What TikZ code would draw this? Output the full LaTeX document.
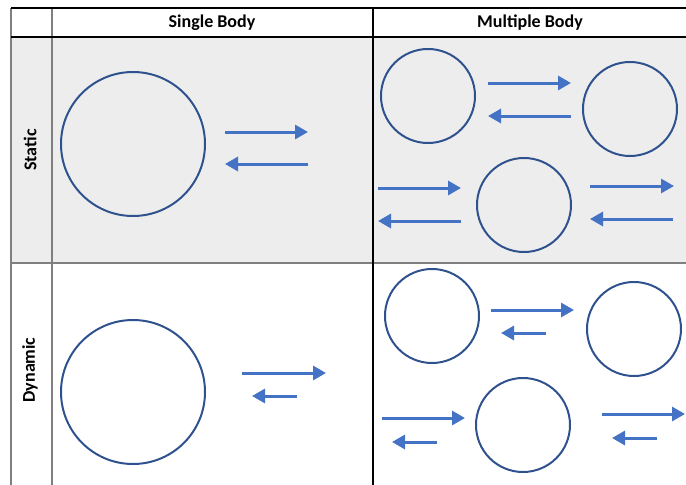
\documentclass[tikz,border=0pt]{standalone}
\usepackage{fontspec}
\setmainfont{Carlito}
\usetikzlibrary{arrows.meta}
\definecolor{cellgray}{HTML}{EDEDED}
\definecolor{ringblue}{HTML}{2F528F}
\definecolor{arrowblue}{HTML}{4472C4}
\definecolor{rulegray}{HTML}{7F7F7F}
\tikzset{
  body/.style={circle, draw=ringblue, line width=2pt, inner sep=0pt, minimum size=#1},
  force/.style={draw=arrowblue, line width=3pt, -{Triangle[length=13pt,width=14pt]}},
  head/.style={font=\bfseries\fontsize{18}{20}\selectfont, inner sep=0pt},
  rowlabel/.style={font=\bfseries\fontsize{18}{20}\selectfont, inner sep=0pt, rotate=90},
  darkrule/.style={draw=black, line width=1.3pt},
  lightrule/.style={draw=rulegray, line width=1.8pt}
}
\begin{document}
\begin{tikzpicture}[x=1pt,y=-1pt]
\useasboundingbox (0,0) rectangle (686,485);
\fill[cellgray] (11,37) rectangle (686,263);
% rules
\draw[lightrule] (11,8) -- (11,485);
\draw[lightrule] (52,8) -- (52,485);
\draw[lightrule] (11,263) -- (686,263);
\draw[darkrule] (373,8) -- (373,485);
\draw[darkrule] (11,8) -- (686,8);
\draw[darkrule] (11,37) -- (686,37);
% headers
\node[head] (hs) at (212,23) {Single Body};
\node[head] (hm) at (530,23) {Multiple Body};
\node[rowlabel] (rs) at (30,150) {Static};
\node[rowlabel] (rd) at (30,370) {Dynamic};
% single static
\node[body=144pt] (c1) at (133,144) {};
\coordinate (a1s) at (225,132); \coordinate (a1e) at (308,132);
\coordinate (a2s) at (308,164); \coordinate (a2e) at (225,164);
\draw[force] (a1s) -- (a1e);
\draw[force] (a2s) -- (a2e);
% single dynamic
\node[body=144pt] (c2) at (133,392) {};
\coordinate (b1s) at (242,373); \coordinate (b1e) at (326,373);
\coordinate (b2s) at (297,396); \coordinate (b2e) at (252,396);
\draw[force] (b1s) -- (b1e);
\draw[force] (b2s) -- (b2e);
% multiple static
\node[body=94pt] (m1) at (428,96) {};
\node[body=94pt] (m2) at (630,109) {};
\node[body=94pt] (m3) at (524,205) {};
\coordinate (p1s) at (488,83); \coordinate (p1e) at (571,83);
\coordinate (p2s) at (571,116); \coordinate (p2e) at (488,116);
\coordinate (p3s) at (378,188); \coordinate (p3e) at (461,188);
\coordinate (p4s) at (461,221); \coordinate (p4e) at (378,221);
\coordinate (p5s) at (590,186); \coordinate (p5e) at (674,186);
\coordinate (p6s) at (673,219); \coordinate (p6e) at (590,219);
\draw[force] (p1s) -- (p1e);
\draw[force] (p2s) -- (p2e);
\draw[force] (p3s) -- (p3e);
\draw[force] (p4s) -- (p4e);
\draw[force] (p5s) -- (p5e);
\draw[force] (p6s) -- (p6e);
% multiple dynamic
\node[body=94pt] (n1) at (432,316) {};
\node[body=94pt] (n2) at (634,329) {};
\node[body=94pt] (n3) at (523,425) {};
\coordinate (q1s) at (491,310); \coordinate (q1e) at (574,310);
\coordinate (q2s) at (546,333); \coordinate (q2e) at (501,333);
\coordinate (q3s) at (382,418); \coordinate (q3e) at (465,418);
\coordinate (q4s) at (437,442); \coordinate (q4e) at (392,442);
\coordinate (q5s) at (602,414); \coordinate (q5e) at (685,414);
\coordinate (q6s) at (657,438); \coordinate (q6e) at (612,438);
\draw[force] (q1s) -- (q1e);
\draw[force] (q2s) -- (q2e);
\draw[force] (q3s) -- (q3e);
\draw[force] (q4s) -- (q4e);
\draw[force] (q5s) -- (q5e);
\draw[force] (q6s) -- (q6e);
\end{tikzpicture}
\end{document}
